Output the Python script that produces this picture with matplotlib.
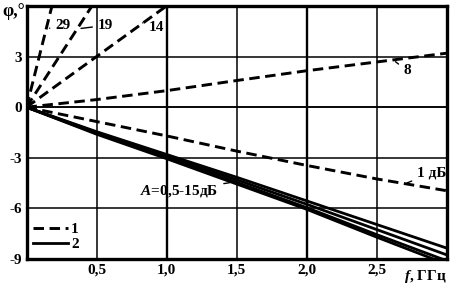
import matplotlib
matplotlib.use("Agg")
import matplotlib.pyplot as plt

plt.rcParams['font.family'] = ['Liberation Serif', 'DejaVu Serif']
plt.rcParams['font.weight'] = 'bold'
plt.rcParams['mathtext.fontset'] = 'custom'
plt.rcParams['mathtext.it'] = 'Liberation Serif:italic:bold'
plt.rcParams['mathtext.rm'] = 'Liberation Serif:bold'

# ---- data ----
f_steep = [0.0, 0.3]
phi_29 = [0.0, 9.9]
f_mid = [0.0, 0.6]
phi_19 = [0.0, 7.7]
f_14 = [0.0, 1.2]
phi_14 = [0.0, 7.2]
f_pts = [0.0, 0.5, 1.0, 1.5, 2.0, 2.5, 3.0]
phi_8 = [0.0, 0.45, 0.98, 1.58, 2.16, 2.68, 3.2]
phi_1db = [0.0, -0.85, -1.7, -2.6, -3.45, -4.25, -4.95]
phi_s1 = [0.0, -1.45, -2.8, -4.15, -5.55, -6.95, -8.35]
phi_s2 = [0.0, -1.5, -2.9, -4.3, -5.75, -7.25, -8.75]
phi_s3 = [0.0, -1.55, -3.0, -4.45, -5.95, -7.55, -9.1]
phi_s4 = [0.0, -1.6, -3.05, -4.55, -6.05, -7.7, -9.3]
xticks = [0.5, 1.0, 1.5, 2.0, 2.5]
xtick_labels = ['0,5', '1,0', '1,5', '2,0', '2,5']
yticks = [-9, -6, -3, 0, 3]
ytick_labels = ['-9', '-6', '-3', '0', '3']

fig = plt.figure(figsize=(4.5, 2.84), dpi=100)
ax = fig.add_axes([26.5/450, 25/284, 420/450, 253/284])
ax.set_xlim(0, 3.0)
ax.set_ylim(-9, 6)

dash = (0, (3.6, 1.9))
lw_d = 2.1
lw_s = 2.0
ax.plot(f_steep, phi_29, color='black', lw=lw_d, linestyle=dash)
ax.plot(f_mid, phi_19, color='black', lw=lw_d, linestyle=dash)
ax.plot(f_14, phi_14, color='black', lw=lw_d, linestyle=dash)
ax.plot(f_pts, phi_8, color='black', lw=lw_d, linestyle=dash)
ax.plot(f_pts, phi_1db, color='black', lw=lw_d, linestyle=dash, label='1')
ax.plot(f_pts, phi_s1, color='black', lw=lw_s, label='2')
ax.plot(f_pts, phi_s2, color='black', lw=lw_s)
ax.plot(f_pts, phi_s3, color='black', lw=lw_s)
ax.plot(f_pts, phi_s4, color='black', lw=lw_s)

# grid
for x in xticks:
    ax.axvline(x, color='black', lw=1.7 if x in (1.0, 2.0) else 1.1, zorder=0)
for y in yticks[1:] + [0]:
    ax.axhline(y, color='black', lw=1.1, zorder=0)

for s in ax.spines.values():
    s.set_linewidth(2.4)

ax.set_xticks(xticks)
ax.set_xticklabels(xtick_labels)
ax.set_yticks(yticks)
ax.set_yticklabels(ytick_labels)
ax.tick_params(length=0, labelsize=11, pad=3)

ax.text(1.0, -0.035, r'$f$, ГГц', transform=ax.transAxes, ha='right', va='top', fontsize=11)
fig.text(2/450, 1 - 11/284, 'φ,°', ha='left', va='center', fontsize=13)

ann = dict(arrowprops=dict(arrowstyle='-', color='black', lw=1.0), fontsize=11, va='center')
ax.annotate('29', xy=(0.145, 4.65), xytext=(0.205, 4.85), ha='left', **ann)
ax.annotate('19', xy=(0.37, 4.65), xytext=(0.51, 4.85), ha='left', **ann)
ax.annotate('14', xy=(0.83, 5.0), xytext=(0.87, 4.75), ha='left', **ann)
ax.annotate('8', xy=(2.62, 2.8), xytext=(2.72, 2.15), ha='center', **ann)
ax.annotate('1 дБ', xy=(2.7, -4.55), xytext=(2.79, -3.9), ha='left', **ann)
ax.annotate(r'$A$=0,5-15дБ', xy=(1.47, -4.45), xytext=(1.37, -4.95), ha='right', **ann)

leg = ax.legend(loc='lower left', bbox_to_anchor=(0.015, 0.03), frameon=False,
                handlelength=2.3, handletextpad=0.2, labelspacing=0.1,
                borderpad=0, borderaxespad=0, fontsize=11)

fig.savefig('out.png', dpi=100)
